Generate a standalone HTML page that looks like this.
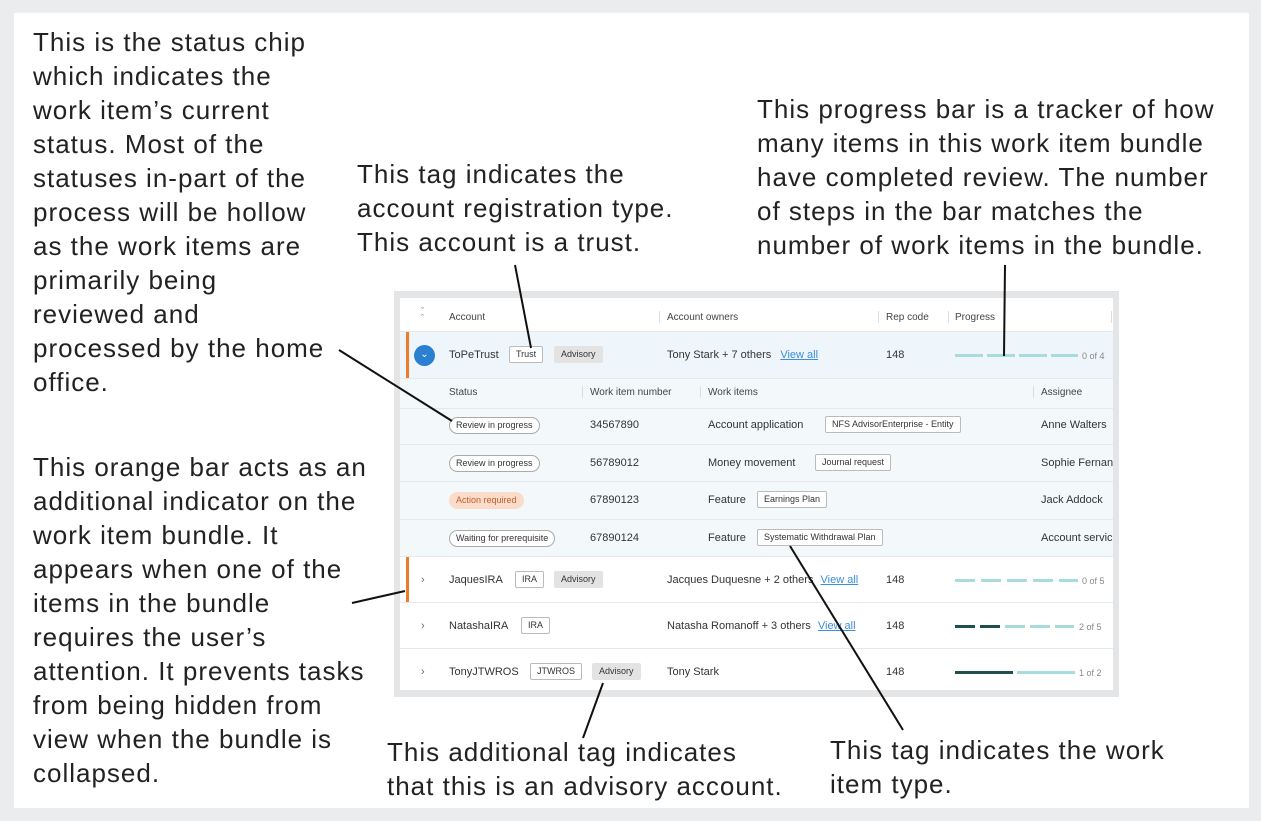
<!DOCTYPE html>
<html><head><meta charset="utf-8"><style>
body{margin:0;width:1261px;height:821px;background:#ebecee;position:relative;font-family:"Liberation Sans",sans-serif;overflow:hidden}
.panel{position:absolute;left:14px;top:13px;width:1235px;height:795px;background:#fff}
.ann{position:absolute;font-size:26px;line-height:34px;color:#222;white-space:nowrap;letter-spacing:1px}
.shot{position:absolute;left:394px;top:291px;width:725px;height:406px;background:#e4e5e7}
.inner{position:absolute;left:400px;top:298px;width:713px;height:392px;background:#fff;overflow:hidden;font-size:11px;color:#333}
.t{position:absolute;white-space:nowrap;line-height:14px}
.h{font-size:10px;color:#444}
.tag{position:absolute;border:1px solid #bbb;border-radius:2px;font-size:9px;padding:2px 6px;line-height:11px;background:#fff;white-space:nowrap}
.tag.g{background:#e3e3e3;border-color:#e3e3e3}
.chip{position:absolute;border:1px solid #aaa;border-radius:10px;font-size:9px;padding:2px 6px;line-height:11px;background:#fff;white-space:nowrap}
.sep{position:absolute;height:1px;background:#e5e8ec;left:0;width:713px}
.vs{position:absolute;width:1px;height:12px;background:#ddd}
.bar{position:absolute;height:3px}
a{color:#3a8ee0;text-decoration:underline}
</style></head><body>
<div class="panel"></div>

<div class="ann" style="left:33px;top:25px">This is the status chip<br>which indicates the<br>work item’s current<br>status. Most of the<br>statuses in-part of the<br>process will be hollow<br>as the work items are<br>primarily being<br>reviewed and<br>processed by the home<br>office.</div>
<div class="ann" style="left:357px;top:157px">This tag indicates the<br>account registration type.<br>This account is a trust.</div>
<div class="ann" style="left:757px;top:92px">This progress bar is a tracker of how<br>many items in this work item bundle<br>have completed review. The number<br>of steps in the bar matches the<br>number of work items in the bundle.</div>
<div class="ann" style="left:33px;top:450px">This orange bar acts as an<br>additional indicator on the<br>work item bundle. It<br>appears when one of the<br>items in the bundle<br>requires the user’s<br>attention. It prevents tasks<br>from being hidden from<br>view when the bundle is<br>collapsed.</div>
<div class="ann" style="left:387px;top:735px">This additional tag indicates<br>that this is an advisory account.</div>
<div class="ann" style="left:830px;top:733px">This tag indicates the work<br>item type.</div>

<div class="shot"></div>
<div class="inner">
 <div style="position:absolute;left:0;top:34px;width:713px;height:46px;background:#eef6fb"></div>
 <div style="position:absolute;left:0;top:80px;width:713px;height:178px;background:#f3f8fb"></div>
 <div style="position:absolute;left:6px;top:34px;width:3px;height:46px;background:#f07a28"></div>
 <div style="position:absolute;left:6px;top:259px;width:3px;height:45px;background:#f07a28"></div>
 <div class="sep" style="top:33px"></div><div class="sep" style="top:80px"></div><div class="sep" style="top:110px"></div>
 <div class="sep" style="top:146px"></div><div class="sep" style="top:183px"></div><div class="sep" style="top:221px"></div>
 <div class="sep" style="top:258px"></div><div class="sep" style="top:304px"></div><div class="sep" style="top:350px"></div>

 <div class="t h" style="left:21px;top:10px;font-size:9px;color:#777;line-height:7px">ˇ<br>ˆ</div>
 <div class="t h" style="left:49px;top:13px">Account</div>
 <div class="vs" style="left:259px;top:13px"></div><div class="t h" style="left:267px;top:13px">Account owners</div>
 <div class="vs" style="left:478px;top:13px"></div><div class="t h" style="left:486px;top:13px">Rep code</div>
 <div class="vs" style="left:548px;top:13px"></div><div class="t h" style="left:555px;top:13px">Progress</div>
 <div class="vs" style="left:711px;top:13px"></div>

 <div style="position:absolute;left:14px;top:47px;width:21px;height:21px;border-radius:50%;background:#2a7fd0;color:#fff;font-size:10px;text-align:center;line-height:20px">⌄</div>
 <div class="t" style="left:49px;top:50px">ToPeTrust</div>
 <div class="tag" style="left:109px;top:48px">Trust</div>
 <div class="tag g" style="left:154px;top:48px">Advisory</div>
 <div class="t" style="left:267px;top:50px">Tony Stark + 7 others <a style="margin-left:6px">View all</a></div>
 <div class="t" style="left:486px;top:50px">148</div>
 <div class="bar" style="left:555px;top:56px;width:28px;background:#a8dcdc"></div><div class="bar" style="left:587px;top:56px;width:28px;background:#a8dcdc"></div><div class="bar" style="left:619px;top:56px;width:28px;background:#a8dcdc"></div><div class="bar" style="left:651px;top:56px;width:27px;background:#a8dcdc"></div>
 <div class="t" style="left:682px;top:51px;font-size:9px;color:#888">0 of 4</div>

 <div class="t h" style="left:49px;top:88px">Status</div>
 <div class="vs" style="left:182px;top:88px"></div><div class="t h" style="left:190px;top:88px">Work item number</div>
 <div class="vs" style="left:300px;top:88px"></div><div class="t h" style="left:308px;top:88px">Work items</div>
 <div class="vs" style="left:633px;top:88px"></div><div class="t h" style="left:641px;top:88px">Assignee</div>

 <div class="chip" style="left:49px;top:119px">Review in progress</div>
 <div class="t" style="left:190px;top:120px">34567890</div>
 <div class="t" style="left:308px;top:120px">Account application</div>
 <div class="tag" style="left:425px;top:118px">NFS AdvisorEnterprise - Entity</div>
 <div class="t" style="left:641px;top:120px">Anne Walters</div>

 <div class="chip" style="left:49px;top:157px">Review in progress</div>
 <div class="t" style="left:190px;top:158px">56789012</div>
 <div class="t" style="left:308px;top:158px">Money movement</div>
 <div class="tag" style="left:415px;top:156px">Journal request</div>
 <div class="t" style="left:641px;top:158px">Sophie Fernandez</div>

 <div class="chip" style="left:49px;top:194px;background:#fbdccb;border-color:#fbdccb;color:#c0602a">Action required</div>
 <div class="t" style="left:190px;top:195px">67890123</div>
 <div class="t" style="left:308px;top:195px">Feature</div>
 <div class="tag" style="left:357px;top:193px">Earnings Plan</div>
 <div class="t" style="left:641px;top:195px">Jack Addock</div>

 <div class="chip" style="left:49px;top:232px">Waiting for prerequisite</div>
 <div class="t" style="left:190px;top:233px">67890124</div>
 <div class="t" style="left:308px;top:233px">Feature</div>
 <div class="tag" style="left:357px;top:231px">Systematic Withdrawal Plan</div>
 <div class="t" style="left:641px;top:233px">Account services</div>

 <div class="t" style="left:21px;top:275px;color:#666">›</div>
 <div class="t" style="left:49px;top:275px">JaquesIRA</div>
 <div class="tag" style="left:115px;top:273px">IRA</div>
 <div class="tag g" style="left:154px;top:273px">Advisory</div>
 <div class="t" style="left:267px;top:275px">Jacques Duquesne + 2 others <a style="margin-left:4px">View all</a></div>
 <div class="t" style="left:486px;top:275px">148</div>
 <div class="bar" style="left:555px;top:281px;width:20px;background:#a8dcdc"></div><div class="bar" style="left:581px;top:281px;width:20px;background:#a8dcdc"></div><div class="bar" style="left:607px;top:281px;width:20px;background:#a8dcdc"></div><div class="bar" style="left:633px;top:281px;width:20px;background:#a8dcdc"></div><div class="bar" style="left:659px;top:281px;width:19px;background:#a8dcdc"></div>
 <div class="t" style="left:682px;top:276px;font-size:9px;color:#888">0 of 5</div>

 <div class="t" style="left:21px;top:321px;color:#666">›</div>
 <div class="t" style="left:49px;top:321px">NatashaIRA</div>
 <div class="tag" style="left:121px;top:319px">IRA</div>
 <div class="t" style="left:267px;top:321px">Natasha Romanoff + 3 others <a style="margin-left:4px">View all</a></div>
 <div class="t" style="left:486px;top:321px">148</div>
 <div class="bar" style="left:555px;top:327px;width:20px;background:#1f4f4f"></div><div class="bar" style="left:580px;top:327px;width:20px;background:#1f4f4f"></div><div class="bar" style="left:605px;top:327px;width:20px;background:#a8dcdc"></div><div class="bar" style="left:630px;top:327px;width:20px;background:#a8dcdc"></div><div class="bar" style="left:655px;top:327px;width:19px;background:#a8dcdc"></div>
 <div class="t" style="left:679px;top:322px;font-size:9px;color:#888">2 of 5</div>

 <div class="t" style="left:21px;top:367px;color:#666">›</div>
 <div class="t" style="left:49px;top:367px">TonyJTWROS</div>
 <div class="tag" style="left:130px;top:365px">JTWROS</div>
 <div class="tag g" style="left:192px;top:365px">Advisory</div>
 <div class="t" style="left:267px;top:367px">Tony Stark</div>
 <div class="t" style="left:486px;top:367px">148</div>
 <div class="bar" style="left:555px;top:373px;width:58px;background:#1f4f4f"></div><div class="bar" style="left:617px;top:373px;width:58px;background:#a8dcdc"></div>
 <div class="t" style="left:679px;top:368px;font-size:9px;color:#888">1 of 2</div>
</div>

<svg width="1261" height="821" style="position:absolute;left:0;top:0">
 <g stroke="#111" stroke-width="2" fill="none">
  <line x1="515" y1="265" x2="531" y2="348"/>
  <line x1="339" y1="350" x2="452" y2="421"/>
  <line x1="352" y1="603" x2="405" y2="591"/>
  <line x1="583" y1="738" x2="603" y2="683"/>
  <line x1="790" y1="546" x2="903" y2="730"/>
  <line x1="1005" y1="265" x2="1004" y2="356"/>
 </g>
</svg>
</body></html>
